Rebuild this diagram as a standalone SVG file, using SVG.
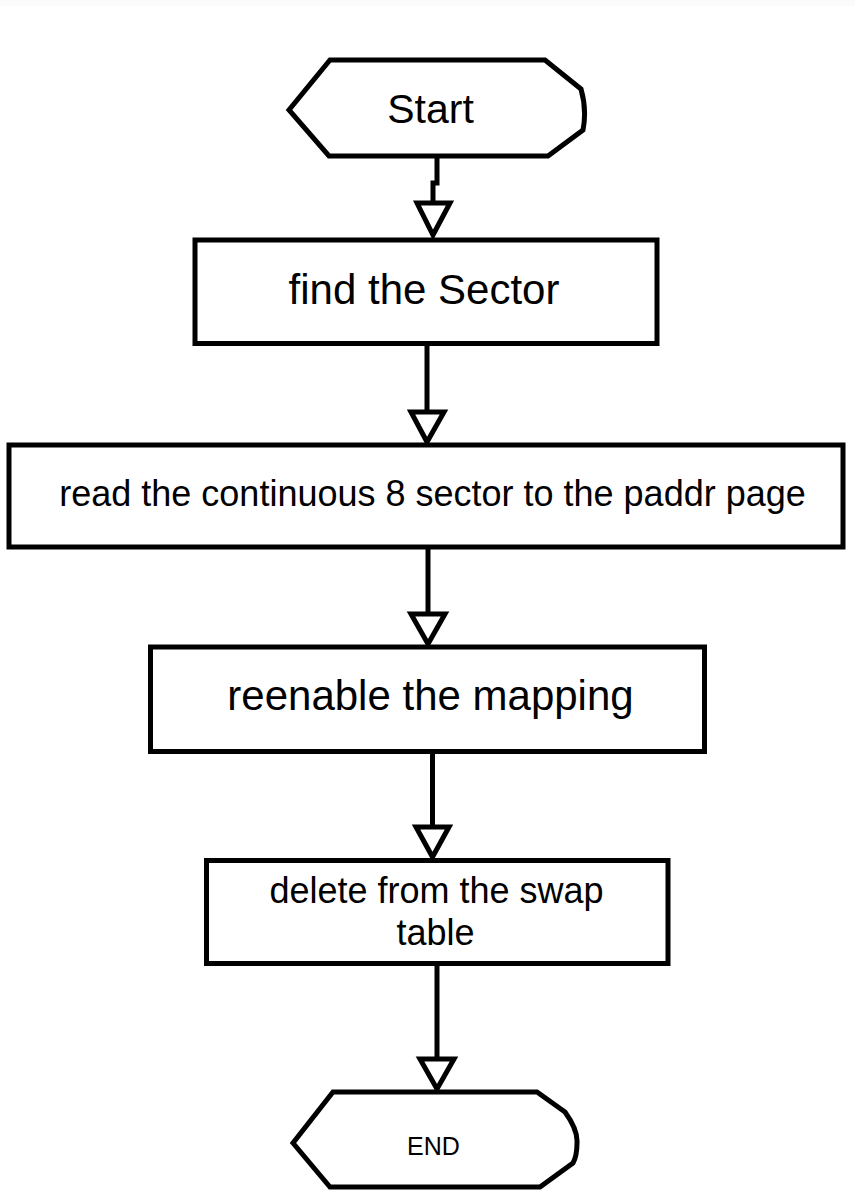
<svg xmlns="http://www.w3.org/2000/svg" width="855" height="1196" viewBox="0 0 855 1196">
<style>
.shape{fill:#fff;stroke:#000;stroke-width:5;stroke-linejoin:miter}
.line{fill:none;stroke:#000;stroke-width:5}
.head{fill:#fff;stroke:#000;stroke-width:5;stroke-linejoin:miter}
.t{font-family:"Liberation Sans",Arial,sans-serif;fill:#000;text-anchor:middle}
.big{font-size:41px}
.big2{font-size:42px}
.mid{font-size:36px}
.small{font-size:25px}
</style>
<rect x="0" y="0" width="855" height="1196" fill="#fff"/>
<rect x="0" y="0" width="855" height="6" fill="#fbfbfb"/>
<g id="connectors">
<polyline class="line" points="437,156 437,183 433,183 433,205"/>
<polygon class="head" points="417,203 450,203 433,235"/>
<line class="line" x1="427" y1="343" x2="427" y2="412"/>
<polygon class="head" points="411,412 444,412 427,442"/>
<line class="line" x1="428" y1="548" x2="428" y2="614"/>
<polygon class="head" points="411,614 445,614 428,644"/>
<line class="line" x1="432.5" y1="751" x2="432.5" y2="827"/>
<polygon class="head" points="416,827 449,827 432.5,857"/>
<line class="line" x1="437" y1="963" x2="437" y2="1059"/>
<polygon class="head" points="420,1059 454,1059 437,1089"/>
</g>
<g id="start">
<path class="shape" d="M330,60 L545,60 L581,89 Q587,110 583,130 L548,156 L329,156 L289,110 Z"/>
<text class="t big" x="430.5" y="123">Start</text>
</g>
<g id="find">
<rect class="shape" x="195" y="240" width="462" height="103.5"/>
<text class="t big2" x="424" y="304">find the Sector</text>
</g>
<g id="read">
<rect class="shape" x="9" y="445" width="834" height="102"/>
<text class="t mid" x="432.5" y="506">read the continuous 8 sector to the paddr page</text>
</g>
<g id="reenable">
<rect class="shape" x="150.5" y="647" width="554" height="104.5"/>
<text class="t big2" x="430.5" y="710">reenable the mapping</text>
</g>
<g id="delete">
<rect class="shape" x="206.5" y="860.5" width="461.5" height="103"/>
<text class="t mid" x="436.5" y="903">delete from the swap</text>
<text class="t mid" x="435.5" y="945">table</text>
</g>
<g id="end">
<path class="shape" d="M333,1092 L537,1092 L565,1112 Q578,1130 577,1143 Q577,1156 573,1163 L540,1187 L330,1187 L293,1143 Z"/>
<text class="t small" x="433.5" y="1155">END</text>
</g>
</svg>
